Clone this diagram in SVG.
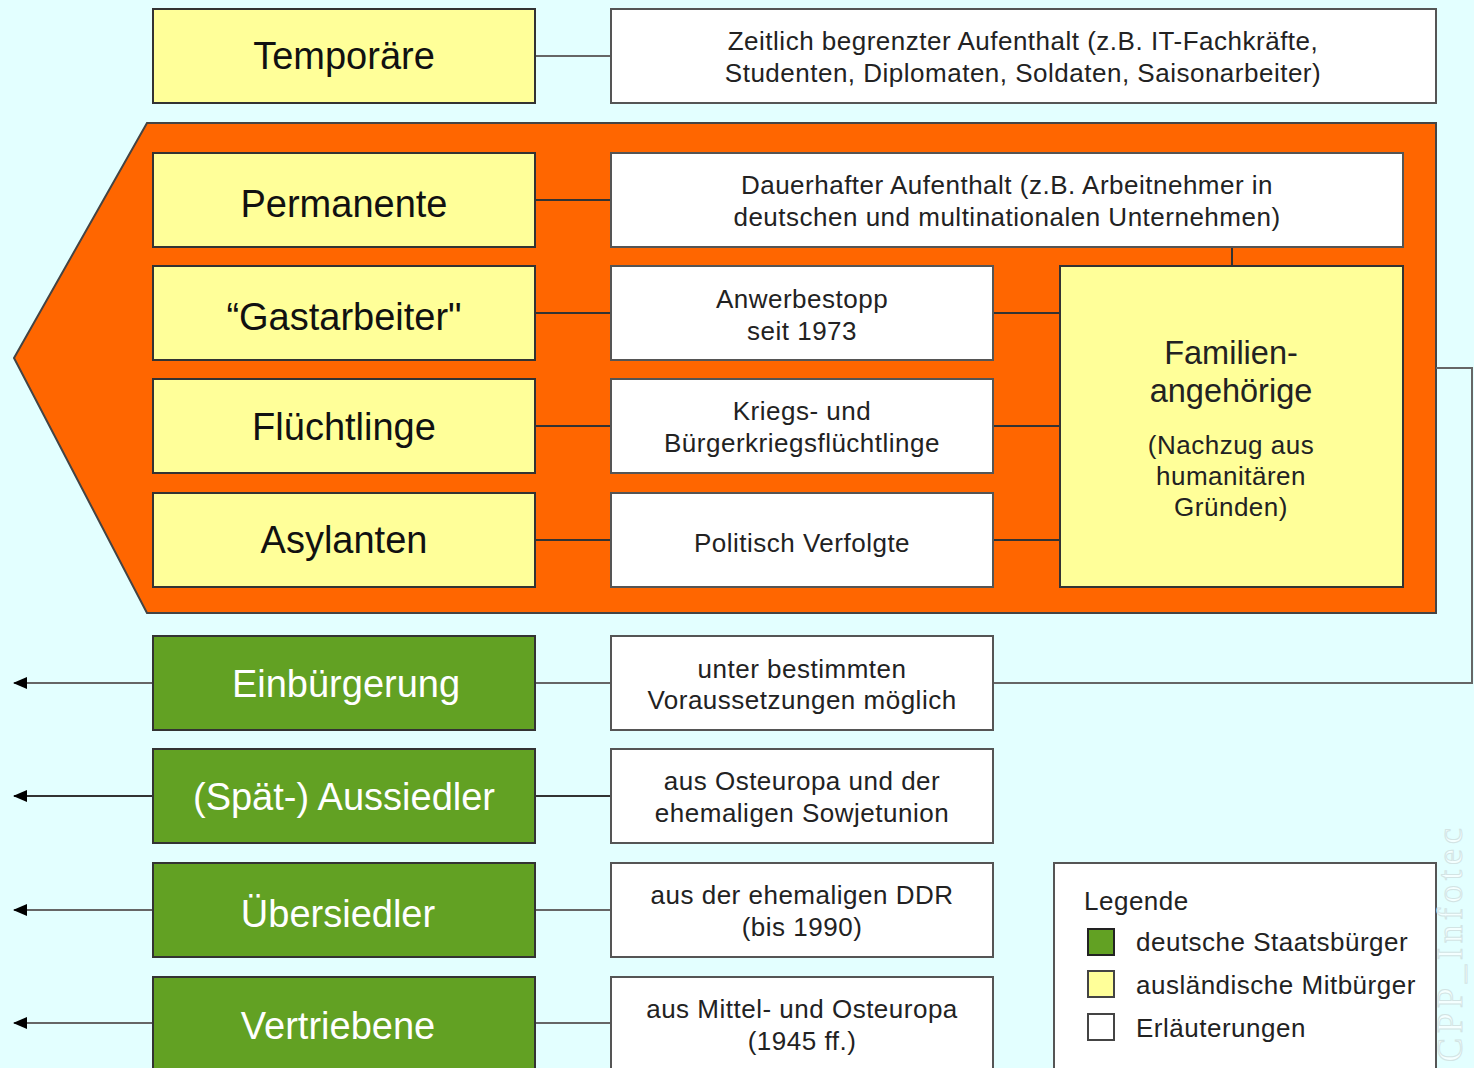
<svg xmlns="http://www.w3.org/2000/svg" width="1474" height="1068" viewBox="0 0 1474 1068">
<defs>
<style>
.bg{fill:#e3ffff}
.y{fill:#ffff99;stroke:#333;stroke-width:2}
.g{fill:#62a123;stroke:#333;stroke-width:2}
.w{fill:#fff;stroke:#555;stroke-width:2}
.big{font-family:"Liberation Sans",Arial,sans-serif;font-size:38px;text-anchor:middle;fill:#111}
.bigw{font-family:"Liberation Sans",Arial,sans-serif;font-size:38px;text-anchor:middle;fill:#fff}
.sm{font-family:"Liberation Sans",Arial,sans-serif;font-size:26px;letter-spacing:0.5px;text-anchor:middle;fill:#222}
.fam{font-family:"Liberation Sans",Arial,sans-serif;font-size:32.5px;text-anchor:middle;fill:#222}
.leg{font-family:"Liberation Sans",Arial,sans-serif;font-size:26px;letter-spacing:0.5px;fill:#222}
.c{fill:none;stroke:#666;stroke-width:2}
.cd{fill:none;stroke:#333;stroke-width:2}
</style>
<marker id="ah" viewBox="0 0 14 12" refX="13" refY="6" markerWidth="14" markerHeight="12" markerUnits="userSpaceOnUse" orient="auto">
<path d="M14,6 L0,0 L0,12 Z" fill="#000"/>
</marker>
</defs>
<rect class="bg" x="0" y="0" width="1474" height="1068"/>
<g id="orange-frame">
<polygon points="147,123 1436,123 1436,613 147,613 14,358" fill="#ff6600" stroke="#444" stroke-width="2"/>
</g>
<g id="connectors">
<line class="c" x1="535" y1="56" x2="611" y2="56"/>
<line class="cd" x1="535" y1="200" x2="611" y2="200"/>
<line class="cd" x1="535" y1="313" x2="611" y2="313"/>
<line class="cd" x1="535" y1="426" x2="611" y2="426"/>
<line class="cd" x1="535" y1="540" x2="611" y2="540"/>
<line class="cd" x1="993" y1="313" x2="1060" y2="313"/>
<line class="cd" x1="993" y1="426" x2="1060" y2="426"/>
<line class="cd" x1="993" y1="540" x2="1060" y2="540"/>
<line class="cd" x1="1232" y1="247" x2="1232" y2="266"/>
<polyline class="c" points="1436,368 1472,368 1472,683 993,683"/>
<line class="c" x1="535" y1="683" x2="611" y2="683"/>
<line class="cd" x1="535" y1="796" x2="611" y2="796"/>
<line class="c" x1="535" y1="910" x2="611" y2="910"/>
<line class="c" x1="535" y1="1023" x2="611" y2="1023"/>
<line class="c" x1="153" y1="683" x2="14" y2="683" marker-end="url(#ah)"/>
<line class="cd" x1="153" y1="796" x2="14" y2="796" marker-end="url(#ah)"/>
<line class="c" x1="153" y1="910" x2="14" y2="910" marker-end="url(#ah)"/>
<line class="c" x1="153" y1="1023" x2="14" y2="1023" marker-end="url(#ah)"/>
</g>
<g id="temporaere"><rect class="y" x="153" y="9" width="382" height="94"/><text class="big" x="344" y="69">Temporäre</text></g>
<g id="temporaere-info"><rect class="w" x="611" y="9" width="825" height="94"/><text class="sm" x="1023" y="50">Zeitlich begrenzter Aufenthalt (z.B. IT-Fachkräfte,</text><text class="sm" x="1023" y="82">Studenten, Diplomaten, Soldaten, Saisonarbeiter)</text></g>
<g id="permanente"><rect class="y" x="153" y="153" width="382" height="94"/><text class="big" x="344" y="217">Permanente</text></g>
<g id="permanente-info"><rect class="w" x="611" y="153" width="792" height="94"/><text class="sm" x="1007" y="194">Dauerhafter Aufenthalt (z.B. Arbeitnehmer in</text><text class="sm" x="1007" y="226">deutschen und multinationalen Unternehmen)</text></g>
<g id="gastarbeiter"><rect class="y" x="153" y="266" width="382" height="94"/><text class="big" x="344" y="330">“Gastarbeiter"</text></g>
<g id="gastarbeiter-info"><rect class="w" x="611" y="266" width="382" height="94"/><text class="sm" x="802" y="308">Anwerbestopp</text><text class="sm" x="802" y="340">seit 1973</text></g>
<g id="fluechtlinge"><rect class="y" x="153" y="379" width="382" height="94"/><text class="big" x="344" y="440">Flüchtlinge</text></g>
<g id="fluechtlinge-info"><rect class="w" x="611" y="379" width="382" height="94"/><text class="sm" x="802" y="420">Kriegs- und</text><text class="sm" x="802" y="452">Bürgerkriegsflüchtlinge</text></g>
<g id="asylanten"><rect class="y" x="153" y="493" width="382" height="94"/><text class="big" x="344" y="553">Asylanten</text></g>
<g id="asylanten-info"><rect class="w" x="611" y="493" width="382" height="94"/><text class="sm" x="802" y="552">Politisch Verfolgte</text></g>
<g id="familienangehoerige"><rect class="y" x="1060" y="266" width="343" height="321"/><text class="fam" x="1231" y="364">Familien-</text><text class="fam" x="1231" y="402">angehörige</text><text class="sm" x="1231" y="454">(Nachzug aus</text><text class="sm" x="1231" y="485">humanitären</text><text class="sm" x="1231" y="516">Gründen)</text></g>
<g id="einbuergerung"><rect class="g" x="153" y="636" width="382" height="94"/><text class="bigw" x="346" y="697">Einbürgerung</text></g>
<g id="einbuergerung-info"><rect class="w" x="611" y="636" width="382" height="94"/><text class="sm" x="802" y="678">unter bestimmten</text><text class="sm" x="802" y="709">Voraussetzungen möglich</text></g>
<g id="aussiedler"><rect class="g" x="153" y="749" width="382" height="94"/><text class="bigw" x="344" y="810">(Spät-) Aussiedler</text></g>
<g id="aussiedler-info"><rect class="w" x="611" y="749" width="382" height="94"/><text class="sm" x="802" y="790">aus Osteuropa und der</text><text class="sm" x="802" y="822">ehemaligen Sowjetunion</text></g>
<g id="uebersiedler"><rect class="g" x="153" y="863" width="382" height="94"/><text class="bigw" x="338" y="927">Übersiedler</text></g>
<g id="uebersiedler-info"><rect class="w" x="611" y="863" width="382" height="94"/><text class="sm" x="802" y="904">aus der ehemaligen DDR</text><text class="sm" x="802" y="936">(bis 1990)</text></g>
<g id="vertriebene"><rect class="g" x="153" y="977" width="382" height="100"/><text class="bigw" x="338" y="1039">Vertriebene</text></g>
<g id="vertriebene-info"><rect class="w" x="611" y="977" width="382" height="100"/><text class="sm" x="802" y="1018">aus Mittel- und Osteuropa</text><text class="sm" x="802" y="1050">(1945 ff.)</text></g>
<g id="legende">
<rect class="w" x="1054" y="863" width="382" height="214"/>
<text class="leg" x="1084" y="910">Legende</text>
<rect x="1088" y="929" width="26" height="26" fill="#62a123" stroke="#222" stroke-width="2"/>
<text class="leg" x="1136" y="951">deutsche Staatsbürger</text>
<rect x="1088" y="971" width="26" height="26" fill="#ffff99" stroke="#444" stroke-width="2"/>
<text class="leg" x="1136" y="994">ausländische Mitbürger</text>
<rect x="1088" y="1014" width="26" height="26" fill="#fff" stroke="#444" stroke-width="2"/>
<text class="leg" x="1136" y="1037">Erläuterungen</text>
</g>
<text transform="translate(1462 1062) rotate(-90)" font-family="'Liberation Serif',serif" font-size="36" letter-spacing="5" fill="#f4ffff" stroke="#d2e4e4" stroke-width="1">CPP_Infotec</text>
</svg>
